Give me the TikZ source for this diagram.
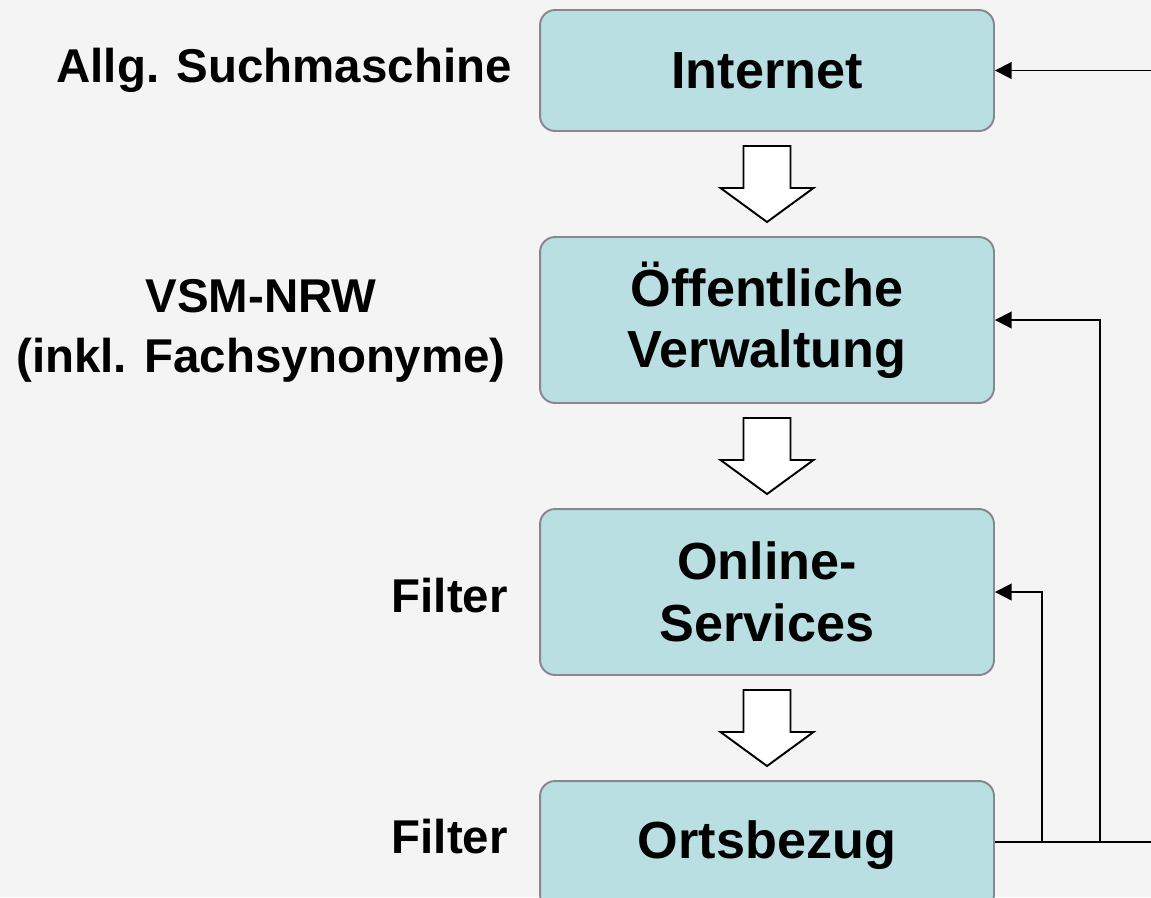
\documentclass[tikz,border=0pt]{standalone}
\usepackage{fontspec}
\setmainfont{Liberation Sans}
\usetikzlibrary{arrows.meta,positioning,calc}
\definecolor{bggray}{HTML}{F4F4F4}
\definecolor{boxfill}{HTML}{B9DFE3}
\definecolor{boxline}{HTML}{888888}

\begin{document}
\begin{tikzpicture}[
    x=0.02cm, y=-0.02cm,
    stage/.style={rectangle, draw=boxline, line width=1.1pt, fill=boxfill, rounded corners=0.3cm,
        minimum width=9.08cm, align=center, inner sep=0pt,
        font=\fontsize{29.7}{35}\selectfont\bfseries},
    note/.style={inner sep=0pt, align=center, font=\fontsize{27}{34}\selectfont\bfseries},
    feedback/.style={line width=1.1pt, -{Triangle[length=9.5pt, width=9.5pt]}},
    flowline/.style={line width=1.1pt},
    blockarrow/.style={draw=black, line width=1.1pt, fill=white, line join=miter}
]
    % Hintergrund
    \fill[bggray] (0,0) rectangle (1151,897);
    \useasboundingbox (0,0) rectangle (1151,897);

    % Stufen - senkrecht
    \node[stage, minimum height=2.42cm] (inet) at (767,70.5) {Internet};
    \node[stage, minimum height=3.32cm] (verw) at (767,320) {Öffentliche\\Verwaltung};
    \node[stage, minimum height=3.32cm] (online) at (767,592) {Online-\\Services};
    \node[stage, minimum height=2.58cm] (ort) at (767,845.5) {Ortsbezug};

    % Beschriftungen links
    \node[note, anchor=base east] (lsuch) at (512,82) {Allg. Suchmaschine};
    \node[note] (lvsm) at (261,331) {VSM-NRW\\(inkl. Fachsynonyme)};
    \node[note, anchor=base east] (lfilt1) at (508,612) {Filter};
    \node[note, anchor=base east] (lfilt2) at (508,853) {Filter};

    % Blockpfeile zwischen den Stufen
    \foreach \a/\b in {inet/verw, verw/online, online/ort}
        \draw[blockarrow] ($(\a.south)!0.5!(\b.north)$)
            ++(-23.5,-38) -- ++(47,0) -- ++(0,42) -- ++(23,0)
            -- ++(-46.5,34) -- ++(-46.5,-34) -- ++(23,0) -- cycle;

    % Rueckfuehrungen rechts
    \coordinate (jon) at (1042,842);
    \coordinate (jverw) at (1100,842);
    \coordinate (rout) at (1160,842);
    \coordinate (rin) at (1160,70.5);
    \draw[flowline] (ort.east |- jon) -- (rout);
    \draw[feedback] (jon) |- (online.east);
    \draw[feedback] (jverw) |- (verw.east);
    \draw[feedback] (rin) -- (inet.east);
\end{tikzpicture}
\end{document}
